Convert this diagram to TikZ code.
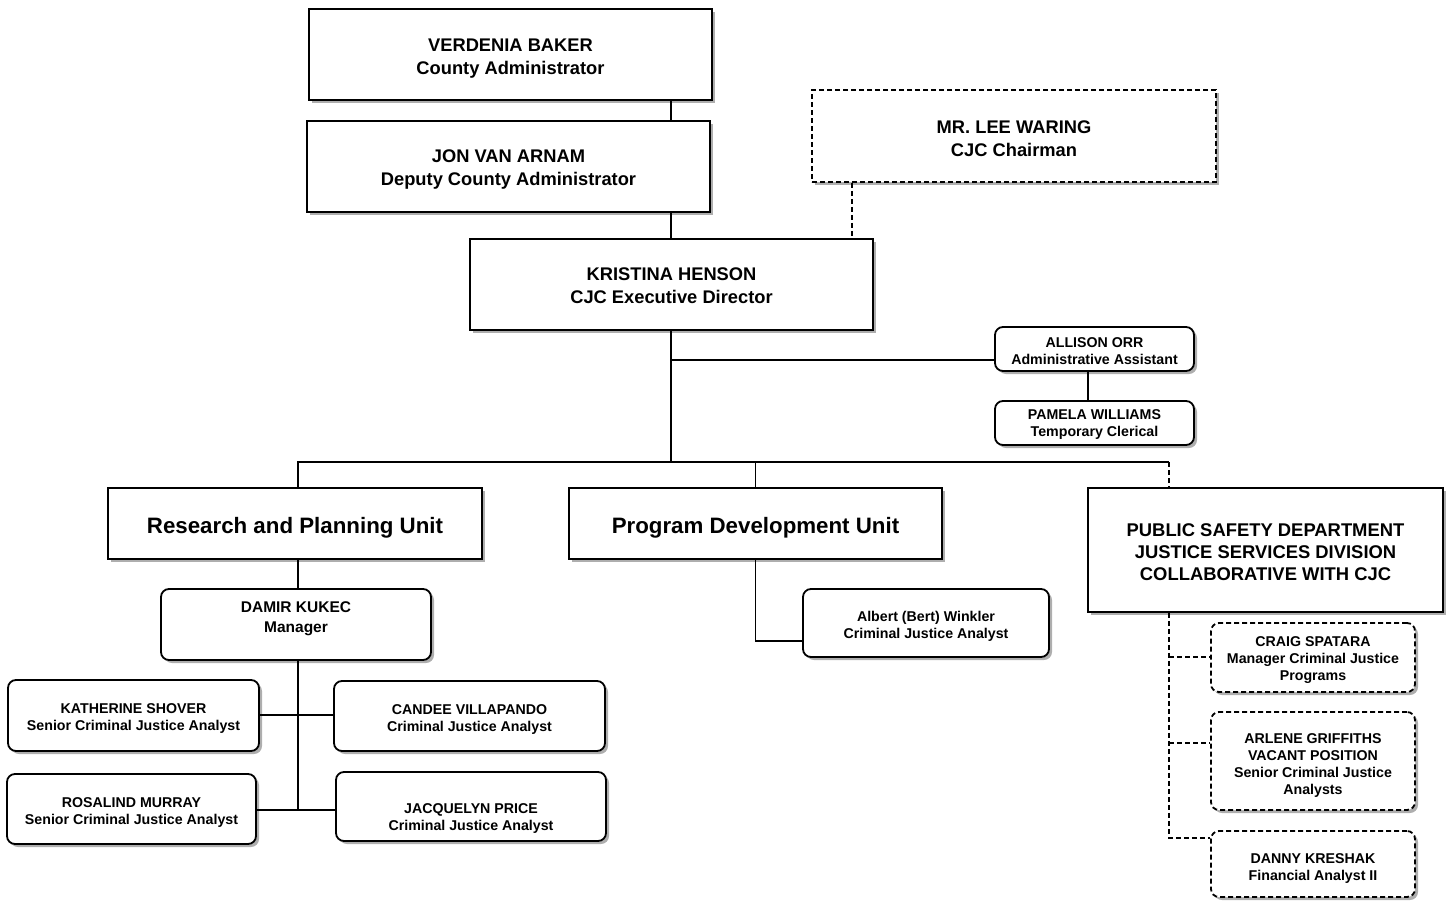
\documentclass[tikz,border=0pt]{standalone}
\usepackage{fontspec}
\setmainfont{Liberation Sans}
\usetikzlibrary{shadows,calc}
\tikzset{
  box/.style={draw, line width=1.8pt, fill=white, inner sep=0pt,
    drop shadow={shadow xshift=3pt, shadow yshift=-3pt, fill=black!45, opacity=0.7}},
  rbox/.style={box, rounded corners=8pt},
  dbox/.style={box, dash pattern=on 5pt off 3pt},
  drbox/.style={rbox, dash pattern=on 5pt off 3pt},
  txt/.style={align=center, inner sep=0pt},
  conn/.style={line width=1.8pt},
  dconn/.style={conn, dash pattern=on 5pt off 3pt},
  big/.style={font=\bfseries\fontsize{18.3}{23}\selectfont},
  unit/.style={font=\bfseries\fontsize{22.3}{26}\selectfont},
  psdf/.style={font=\bfseries\fontsize{18.4}{22}\selectfont},
  small/.style={font=\bfseries\fontsize{14.2}{17}\selectfont},
  mid/.style={font=\bfseries\fontsize{15.5}{20}\selectfont},
}
% #1 text shift, #2 box style, #3 name, #4 centre, #5 font style, #6 text
\newcommand\obox[6][3]{%
  \node[#2] (#3) at (#4) {};
  \node[txt,#5] (#3-t) at ($(#3.center)+(0,#1)$) {#6};}
\begin{document}
\begin{tikzpicture}[x=1pt,y=-1pt]
\useasboundingbox (0,0) rectangle (1448,900);
% top
\obox[4]{box,minimum width=403pt,minimum height=91pt}{verd}{510.5,54.5}{big}{VERDENIA BAKER\\County Administrator}
\obox{box,minimum width=403pt,minimum height=91pt}{jon}{508.5,166.5}{big}{JON VAN ARNAM\\Deputy County Administrator}
\obox{dbox,minimum width=404pt,minimum height=92pt}{lee}{1014,136}{big}{MR. LEE WARING\\CJC Chairman}
\obox[1.5]{box,minimum width=403pt,minimum height=91pt}{kris}{671.5,284.5}{big}{KRISTINA HENSON\\CJC Executive Director}
\obox[2]{rbox,minimum width=199pt,minimum height=44pt}{alli}{1094.5,349}{small}{ALLISON ORR\\Administrative Assistant}
\obox[2]{rbox,minimum width=199pt,minimum height=44pt}{pam}{1094.5,423}{small}{PAMELA WILLIAMS\\Temporary Clerical}
% units
\obox[4]{box,minimum width=374pt,minimum height=71pt}{res}{295,523.5}{unit}{Research and Planning Unit}
\obox[4]{box,minimum width=373pt,minimum height=71pt}{prog}{755.5,523.5}{unit}{Program Development Unit}
\obox[2]{box,minimum width=355pt,minimum height=124pt}{psd}{1265.5,550}{psdf}{PUBLIC SAFETY DEPARTMENT\\JUSTICE SERVICES DIVISION\\COLLABORATIVE WITH CJC}
% research
\obox[-5.5]{rbox,minimum width=270pt,minimum height=71pt}{dam}{296,624.5}{mid}{DAMIR KUKEC\\Manager}
\obox{rbox,minimum width=251pt,minimum height=71pt}{kat}{133.5,715.5}{small}{KATHERINE SHOVER\\Senior Criminal Justice Analyst}
\obox[3.5]{rbox,minimum width=271pt,minimum height=70pt}{can}{469.5,716}{small}{CANDEE VILLAPANDO\\Criminal Justice Analyst}
\obox[4]{rbox,minimum width=249pt,minimum height=70pt}{ros}{131.5,809}{small}{ROSALIND MURRAY\\Senior Criminal Justice Analyst}
\obox[12]{rbox,minimum width=270pt,minimum height=69pt}{jac}{471,806.5}{small}{JACQUELYN PRICE\\Criminal Justice Analyst}
% program
\obox{rbox,minimum width=246pt,minimum height=68pt}{alb}{926,623}{small}{Albert (Bert) Winkler\\Criminal Justice Analyst}
% public safety
\obox{drbox,minimum width=204pt,minimum height=69pt}{cra}{1313,657.5}{small}{CRAIG SPATARA\\Manager Criminal Justice\\Programs}
\obox[5]{drbox,minimum width=204pt,minimum height=98pt}{arl}{1313,761}{small}{ARLENE GRIFFITHS\\VACANT POSITION\\Senior Criminal Justice\\Analysts}
\obox[5]{drbox,minimum width=204pt,minimum height=66pt}{dan}{1313,864}{small}{DANNY KRESHAK\\Financial Analyst II}
% connectors
\draw[conn] (671,0 |- verd.south) -- (671,0 |- jon.north);
\draw[conn] (671,0 |- jon.south) -- (671,0 |- kris.north);
\draw[dconn] (852,0 |- lee.south) -- (852,0 |- kris.north);
\coordinate (bus) at (671,462);
\draw[conn] (671,0 |- kris.south) -- (bus);
\draw[conn] (671,360) -- (alli.west |- 671,360);
\draw[conn] (1088,0 |- alli.south) -- (1088,0 |- pam.north);
\draw[conn] (298,0 |- res.north) -- (298,462) -- (1169,462);
\draw[conn] (prog.north) -- (prog.north |- bus);
\draw[dconn] (1169,462) -- (1169,0 |- psd.north);
\draw[conn] (298,0 |- res.south) -- (298,0 |- dam.north);
\draw[conn] (298,0 |- dam.south) -- (298,810);
\draw[conn] (kat.east |- 0,715) -- (can.west |- 0,715);
\draw[conn] (ros.east |- 0,810) -- (jac.west |- 0,810);
\draw[conn] (prog.south) -- (prog.south |- 0,641) -- (alb.west |- 0,641);
\draw[dconn] (1169,0 |- psd.south) -- (1169,838) -- (dan.west |- 0,838);
\draw[dconn] (1169,657) -- (cra.west |- 0,657);
\draw[dconn] (1169,743) -- (arl.west |- 0,743);
\end{tikzpicture}
\end{document}
